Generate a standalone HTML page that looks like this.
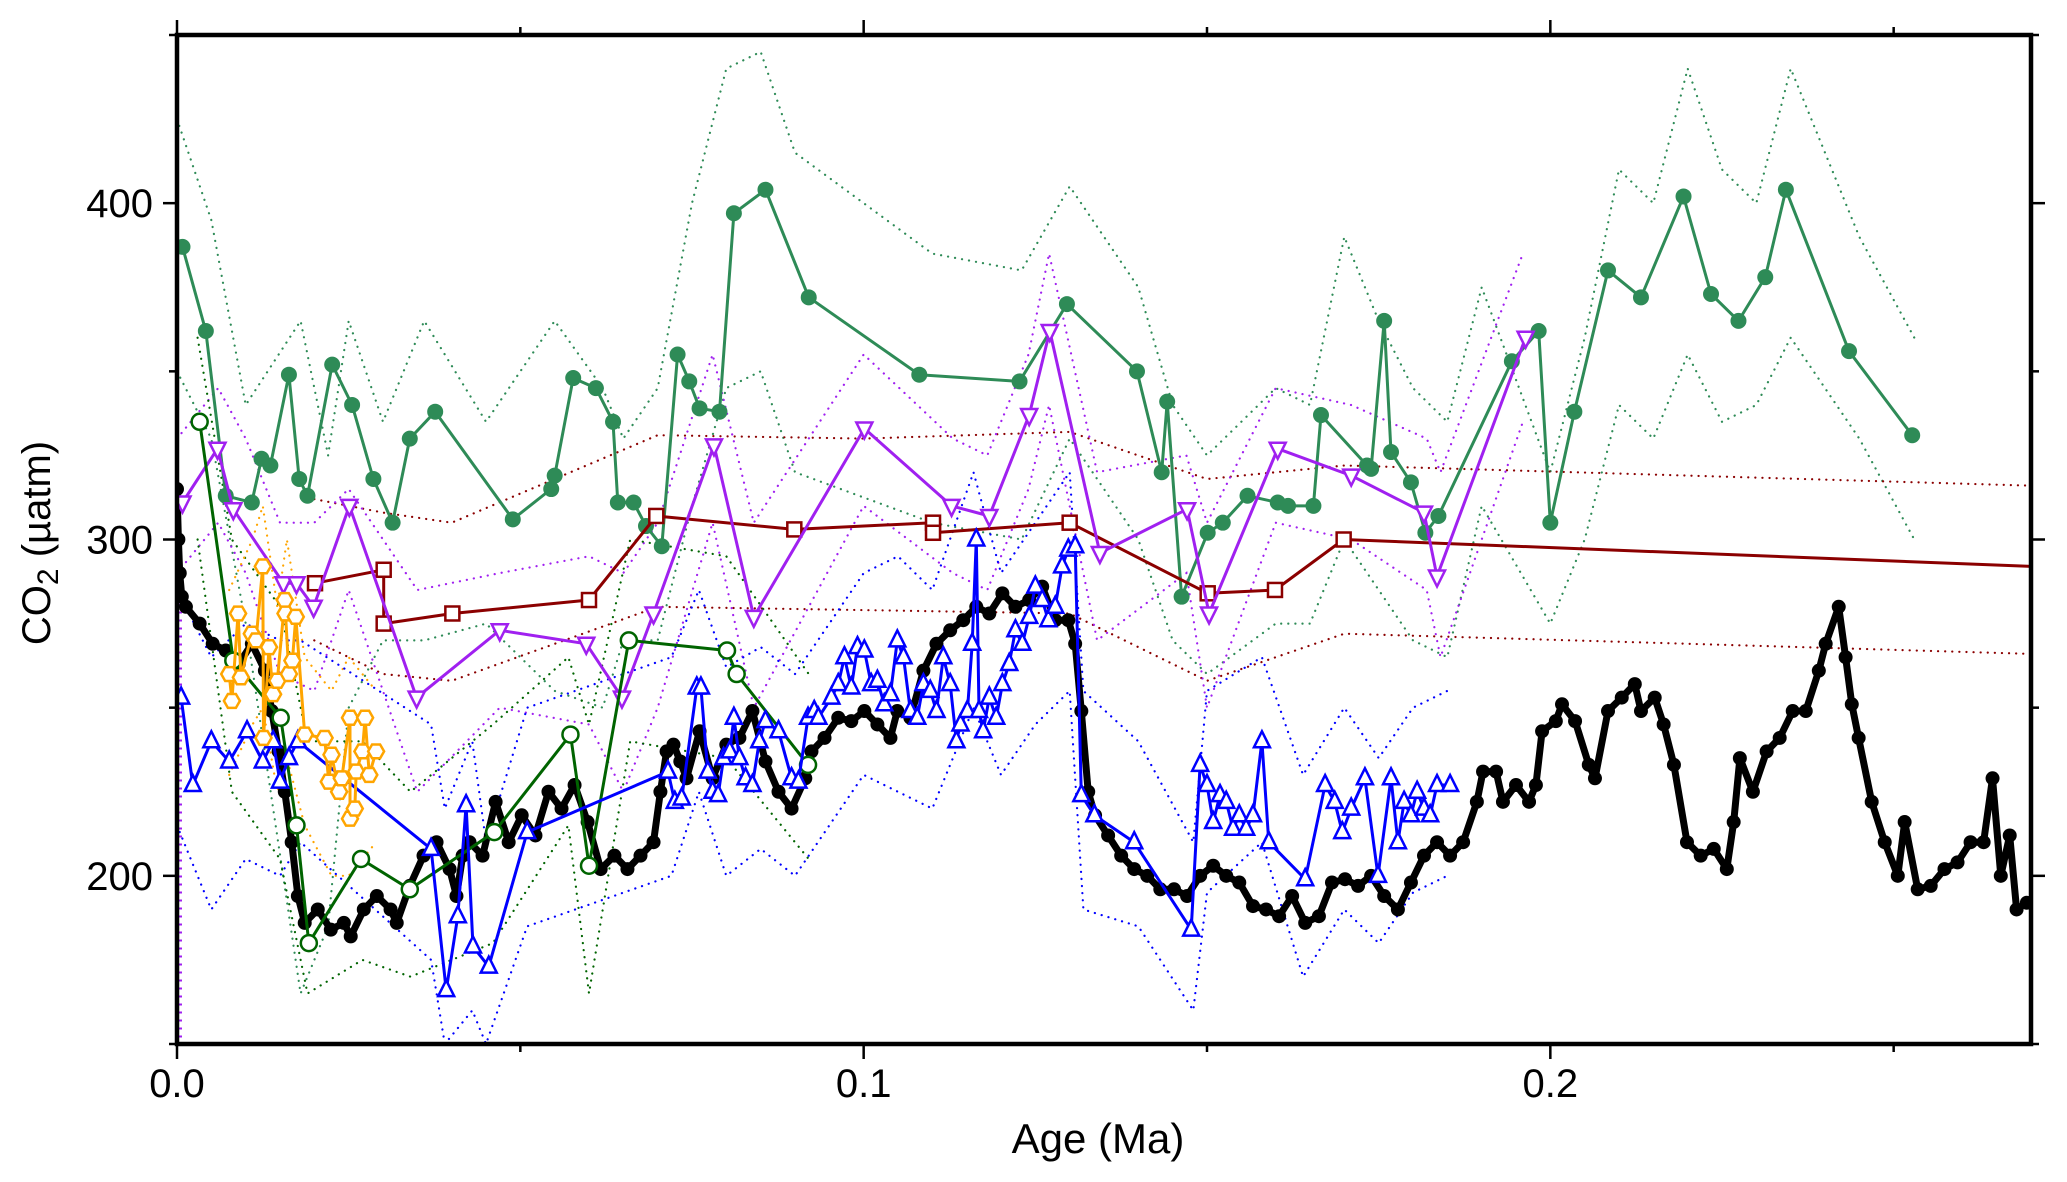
<!DOCTYPE html>
<html><head><meta charset="utf-8">
<style>
html,body{margin:0;padding:0;background:#fff;}
svg{display:block;font-family:"Liberation Sans",Arial,sans-serif;}
</style></head>
<body>
<svg id="chart" width="2067" height="1182" viewBox="0 0 2067 1182" xmlns="http://www.w3.org/2000/svg">
<defs><clipPath id="plotclip"><rect x="177" y="35" width="1854" height="1009"/></clipPath></defs>
<rect x="0" y="0" width="2067" height="1182" fill="#fff"/>
<g id="bands" clip-path="url(#plotclip)"></g>
<g id="series" clip-path="url(#plotclip)"></g>
<g id="axes"></g>
<text x="1098" y="1153" font-size="42" text-anchor="middle">Age (Ma)</text>
<text transform="translate(50,543) rotate(-90)" font-size="40" text-anchor="middle">CO<tspan font-size="30" dy="8">2</tspan><tspan dy="-8">  (µatm)</tspan></text>
</svg>
<script>
// ---- axis domains ----
const xDomain = [0, 0.27];
const yDomain = [150, 450];
const xMajorTicks = [0, 0.1, 0.2];
const xTickLabels = ["0.0", "0.1", "0.2"];
const xMinorTicks = [0.05, 0.15, 0.25];
const yMajorTicks = [200, 300, 400];
const yTickLabels = ["200", "300", "400"];
const yMinorTicks = [150, 250, 350, 450];

// ---- green filled circles ----
const greenAge = [0.0008,0.0042,0.0071,0.0109,0.0123,0.0136,0.0163,0.0178,0.0190,0.0226,0.0255,0.0286,0.0314,0.0339,0.0376,0.0489,0.0545,0.0550,0.0577,0.0610,0.0635,0.0642,0.0665,0.0683,0.0706,0.0729,0.0746,0.0761,0.0790,0.0811,0.0857,0.0920,0.1081,0.1227,0.1296,0.1398,0.1434,0.1442,0.1463,0.1501,0.1523,0.1559,0.1603,0.1618,0.1655,0.1666,0.1733,0.1739,0.1758,0.1768,0.1797,0.1818,0.1837,0.1944,0.1983,0.2000,0.2035,0.2084,0.2132,0.2194,0.2234,0.2274,0.2313,0.2343,0.2435,0.2527];
const greenCO2 = [387,362,313,311,324,322,349,318,313,352,340,318,305,330,338,306,315,319,348,345,335,311,311,304,298,355,347,339,338,397,404,372,349,347,370,350,320,341,283,302,305,313,311,310,310,337,322,321,365,326,317,302,307,353,362,305,338,380,372,402,373,365,378,404,356,331];
const greenBandAge = [0,0.005,0.01,0.018,0.022,0.025,0.03,0.036,0.045,0.055,0.062,0.065,0.07,0.075,0.08,0.085,0.09,0.11,0.123,0.13,0.14,0.145,0.15,0.16,0.165,0.17,0.175,0.18,0.185,0.19,0.2,0.205,0.21,0.215,0.22,0.225,0.23,0.235,0.245,0.253];
const greenHi = [425,395,340,365,325,365,335,365,335,365,345,330,345,400,440,445,415,385,380,405,375,340,325,345,340,390,365,345,335,375,320,360,410,400,440,410,400,440,390,360];
const greenLo = [350,330,275,165,185,250,270,270,275,255,250,270,270,310,345,350,320,305,300,330,300,270,260,275,275,300,285,270,265,310,275,300,340,330,355,335,340,360,330,300];

// ---- dark red squares ----
const redAge = [0.0201,0.0301,0.0301,0.0401,0.0600,0.0698,0.0899,0.1101,0.1101,0.1300,0.1501,0.1599,0.1699];
const redCO2 = [287,291,275,278,282,307,303,305,302,305,284,285,300];
const redTailAge = [0.1699,0.27];
const redTailCO2 = [300,292];
const redBandAge = [0.02,0.03,0.04,0.07,0.1,0.13,0.15,0.17,0.27];
const redHi = [312,308,305,331,330,332,318,322,316];
const redLo = [270,260,258,280,279,278,258,272,266];

// ---- purple downward triangles ----
const purpleAge = [0.0008,0.0059,0.0082,0.0155,0.0174,0.0199,0.0251,0.0349,0.0470,0.0596,0.0648,0.0694,0.0782,0.0840,0.1001,0.1128,0.1183,0.1241,0.1271,0.1344,0.1471,0.1503,0.1603,0.1710,0.1816,0.1835,0.1964];
const purpleCO2 = [311,327,309,287,287,280,310,253,273,269,253,278,328,277,333,310,307,337,362,296,309,278,327,319,308,289,360];
const purpleBandAge = [0,0.006,0.01,0.015,0.02,0.025,0.035,0.047,0.06,0.065,0.07,0.078,0.084,0.1,0.113,0.118,0.124,0.127,0.134,0.147,0.15,0.16,0.171,0.182,0.184,0.196];
const purpleHi = [330,345,330,305,305,315,285,290,295,290,305,355,305,355,330,325,355,385,320,325,305,345,340,330,320,385];
const purpleLo = [290,305,290,260,255,285,225,250,245,225,250,305,250,310,290,285,315,340,270,290,250,305,300,285,265,335];

// ---- dark green open circles ----
const dgreenAge = [0.0033,0.0082,0.0151,0.0174,0.0192,0.0268,0.0339,0.0462,0.0573,0.0600,0.0658,0.0801,0.0815,0.0919];
const dgreenCO2 = [335,264,247,215,180,205,196,213,242,203,270,267,260,233];
const dgreenBandAge = [0.003,0.008,0.015,0.019,0.027,0.034,0.046,0.057,0.06,0.066,0.08,0.092];
const dgreenHi = [360,300,280,240,240,225,245,265,245,300,295,260];
const dgreenLo = [300,225,205,165,175,170,180,215,165,240,235,205];

// ---- orange hexagons ----
const orangeAge = [0.0076,0.0080,0.0089,0.0093,0.0109,0.0115,0.0125,0.0126,0.0134,0.0140,0.0146,0.0157,0.0158,0.0163,0.0168,0.0173,0.0186,0.0215,0.0221,0.0225,0.0236,0.0240,0.0252,0.0252,0.0259,0.0261,0.0270,0.0274,0.0280,0.0290];
const orangeCO2 = [260,252,278,259,272,270,292,241,268,254,258,282,278,260,264,277,242,241,228,236,225,229,247,217,220,231,237,247,230,237];
const orangeBandAge = [0.0076,0.011,0.0125,0.0146,0.016,0.0186,0.0225,0.025,0.029];
const orangeHi = [285,300,310,280,300,265,255,265,255];
const orangeLo = [230,245,250,225,235,215,200,200,210];

// ---- blue upward triangles ----
const blueAge = [0.0006,0.0023,0.0050,0.0076,0.0102,0.0125,0.0140,0.0150,0.0163,0.0176,0.0370,0.0392,0.0409,0.0421,0.0431,0.0454,0.0510,0.0715,0.0725,0.0735,0.0757,0.0763,0.0773,0.0780,0.0788,0.0796,0.0805,0.0811,0.0819,0.0828,0.0838,0.0848,0.0857,0.0876,0.0895,0.0905,0.0919,0.0928,0.0934,0.0953,0.0963,0.0972,0.0982,0.0991,0.1001,0.1011,0.1020,0.1030,0.1039,0.1049,0.1058,0.1068,0.1078,0.1087,0.1097,0.1106,0.1116,0.1126,0.1135,0.1141,0.1151,0.1158,0.1164,0.1168,0.1174,0.1183,0.1193,0.1202,0.1212,0.1221,0.1231,0.1241,0.1250,0.1260,0.1269,0.1279,0.1289,0.1298,0.1308,0.1317,0.1336,0.1394,0.1477,0.1490,0.1500,0.1509,0.1519,0.1528,0.1538,0.1547,0.1557,0.1567,0.1580,0.1590,0.1643,0.1672,0.1686,0.1697,0.1710,0.1730,0.1749,0.1768,0.1778,0.1787,0.1797,0.1806,0.1816,0.1825,0.1835,0.1854];
const blueCO2 = [253,227,240,234,243,234,240,228,235,240,208,166,188,221,179,173,213,231,222,223,256,256,231,225,224,235,237,247,235,229,227,240,246,243,229,228,247,249,247,253,257,265,256,268,267,257,258,251,254,270,265,249,247,257,255,249,265,257,240,245,249,269,300,249,243,253,247,257,263,273,269,277,286,282,276,280,292,297,298,224,218,210,184,233,227,216,224,222,214,218,214,218,240,210,199,227,222,213,220,229,200,229,210,222,218,225,220,218,227,227];
const blueBandAge = [0,0.005,0.01,0.015,0.018,0.037,0.039,0.043,0.045,0.051,0.072,0.076,0.08,0.085,0.09,0.1,0.105,0.11,0.116,0.12,0.125,0.13,0.132,0.14,0.148,0.15,0.158,0.164,0.17,0.175,0.18,0.185];
const blueHi = [285,265,275,270,270,245,220,240,210,250,265,285,262,268,260,290,295,285,320,290,305,320,255,240,210,255,265,230,250,235,250,255];
const blueLo = [215,190,205,200,210,175,150,160,150,185,200,225,200,208,200,230,225,220,250,230,245,255,190,185,160,195,210,170,190,180,195,200];

// ---- black filled circles (ice core) ----
const blackAge = [0,0.0002,0.0004,0.0007,0.0013,0.0033,0.0052,0.0071,0.0090,0.0109,0.0128,0.0138,0.0148,0.0157,0.0167,0.0176,0.0186,0.0205,0.0224,0.0243,0.0253,0.0272,0.0291,0.0311,0.0320,0.0339,0.0359,0.0378,0.0397,0.0407,0.0416,0.0426,0.0445,0.0464,0.0483,0.0502,0.0522,0.0541,0.0560,0.0579,0.0598,0.0617,0.0637,0.0656,0.0675,0.0694,0.0704,0.0713,0.0723,0.0733,0.0742,0.0761,0.0780,0.0800,0.0819,0.0838,0.0857,0.0876,0.0895,0.0915,0.0924,0.0943,0.0963,0.0982,0.1001,0.1020,0.1039,0.1049,0.1068,0.1087,0.1106,0.1126,0.1145,0.1164,0.1183,0.1202,0.1221,0.1241,0.1260,0.1279,0.1298,0.1308,0.1317,0.1327,0.1337,0.1356,0.1375,0.1394,0.1413,0.1432,0.1452,0.1471,0.1490,0.1509,0.1528,0.1547,0.1567,0.1586,0.1605,0.1624,0.1643,0.1663,0.1682,0.1701,0.1720,0.1739,0.1758,0.1778,0.1797,0.1816,0.1835,0.1854,0.1873,0.1893,0.1902,0.1921,0.1931,0.1950,0.1969,0.1979,0.1988,0.2008,0.2017,0.2036,0.2056,0.2065,0.2084,0.2104,0.2123,0.2132,0.2152,0.2165,0.2180,0.2199,0.2219,0.2238,0.2257,0.2267,0.2276,0.2295,0.2315,0.2334,0.2353,0.2372,0.2391,0.2401,0.2420,0.2430,0.2439,0.2449,0.2468,0.2487,0.2506,0.2516,0.2535,0.2554,0.2574,0.2593,0.2612,0.2631,0.2644,0.2656,0.2669,0.2679,0.2694];
const blackCO2 = [315,300,290,283,280,275,269,267,263,269,261,249,237,225,210,194,186,190,184,186,182,190,194,190,186,197,206,210,202,194,206,210,206,222,210,218,212,225,220,227,216,202,206,202,206,210,225,237,239,234,229,243,229,239,241,249,234,225,220,229,237,241,247,246,249,245,241,249,247,261,269,273,276,280,278,284,280,282,286,276,276,269,249,225,218,212,206,202,200,196,196,194,200,203,200,198,191,190,188,194,186,188,198,199,197,200,194,190,198,206,210,206,210,222,231,231,222,227,222,227,243,246,251,246,233,229,249,253,257,249,253,245,233,210,206,208,202,216,235,225,237,241,249,249,261,269,280,265,251,241,222,210,200,216,196,197,202,204,210,210,229,200,212,190,192];

const NS = "http://www.w3.org/2000/svg";
const PL = 177, PR = 2031, PT = 35, PB = 1044;
function X(a){ return PL + (a - xDomain[0]) / (xDomain[1] - xDomain[0]) * (PR - PL); }
function Y(v){ return PB - (v - yDomain[0]) / (yDomain[1] - yDomain[0]) * (PB - PT); }
function mk(tag, attrs, parent){
  const e = document.createElementNS(NS, tag);
  for (const k in attrs) e.setAttribute(k, attrs[k]);
  parent.appendChild(e);
  return e;
}
function pts(ages, vals){ return ages.map((a,i)=>X(a).toFixed(1)+","+Y(vals[i]).toFixed(1)).join(" "); }

const bands = document.getElementById("bands");
const series = document.getElementById("series");
const axes = document.getElementById("axes");

function band(ages, vals, color, name){
  const p = mk("polyline", {points: pts(ages, vals), fill: "none", stroke: color, "stroke-width": 2.2, "stroke-dasharray": "0.1 7", "stroke-linecap": "round"}, bands);
  
  
}
band(greenBandAge, greenHi, "#2e8b57", "green-upper-bound");
band(greenBandAge, greenLo, "#2e8b57", "green-lower-bound");
band(redBandAge, redHi, "#8b0000", "red-upper-bound");
band(redBandAge, redLo, "#8b0000", "red-lower-bound");
band(purpleBandAge, purpleHi, "#a020f0", "purple-upper-bound");
band(purpleBandAge, purpleLo, "#a020f0", "purple-lower-bound");
band(dgreenBandAge, dgreenHi, "#006400", "darkgreen-upper-bound");
band(dgreenBandAge, dgreenLo, "#006400", "darkgreen-lower-bound");
band(orangeBandAge, orangeHi, "#ffa500", "orange-upper-bound");
band(orangeBandAge, orangeLo, "#ffa500", "orange-lower-bound");
band(blueBandAge, blueHi, "#0000ff", "blue-upper-bound");
band(blueBandAge, blueLo, "#0000ff", "blue-lower-bound");

// left-edge colored tick column
const edge = mk("line", {x1: X(0)+3, y1: Y(300), x2: X(0)+3, y2: PB, stroke: "#a020f0", "stroke-width": 4, "stroke-dasharray": "2 6"}, bands);



function line(ages, vals, color, w, name){
  const p = mk("polyline", {points: pts(ages, vals), fill: "none", stroke: color, "stroke-width": w, "stroke-linejoin": "round"}, series);
  
  
}
function marker(kind, cx, cy, color, g){
  let e;
  if (kind === "dot") e = mk("circle", {cx: cx, cy: cy, r: 8, fill: color}, g);
  else if (kind === "bdot") e = mk("circle", {cx: cx, cy: cy, r: 7, fill: color}, g);
  else if (kind === "ocircle") e = mk("circle", {cx: cx, cy: cy, r: 8, fill: "#fff", stroke: color, "stroke-width": 2.5}, g);
  else if (kind === "square") e = mk("rect", {x: cx-7, y: cy-7, width: 14, height: 14, fill: "#fff", stroke: color, "stroke-width": 2.5}, g);
  else if (kind === "tup") e = mk("polygon", {points: `${cx},${cy-10} ${cx-8},${cy+6} ${cx+8},${cy+6}`, fill: "#fff", stroke: color, "stroke-width": 2.5}, g);
  else if (kind === "tdown") e = mk("polygon", {points: `${cx},${cy+10} ${cx-8},${cy-6} ${cx+8},${cy-6}`, fill: "#fff", stroke: color, "stroke-width": 2.5}, g);
  else if (kind === "hex") {
    const r = 8; const ps = [];
    for (let k=0;k<6;k++){ const an = Math.PI/3*k; ps.push((cx+r*Math.cos(an)).toFixed(1)+","+(cy+r*Math.sin(an)).toFixed(1)); }
    e = mk("polygon", {points: ps.join(" "), fill: "#fff", stroke: color, "stroke-width": 2.5}, g);
  }
  return e;
}
function markers(ages, vals, kind, color, name){
  const g = mk("g", {}, series);
  
  
  ages.forEach((a,i)=>{
    const m = marker(kind, X(a), Y(vals[i]), color, g);
    
    
  });
}

line(blackAge, blackCO2, "#000", 7, "black-series-line");
markers(blackAge, blackCO2, "bdot", "#000", "black-series-markers");

line(greenAge, greenCO2, "#2e8b57", 3, "green-series-line");
markers(greenAge, greenCO2, "dot", "#2e8b57", "green-series-markers");

line(redAge, redCO2, "#8b0000", 3, "red-series-line");
line(redTailAge, redTailCO2, "#8b0000", 3, "red-series-tail");
markers(redAge, redCO2, "square", "#8b0000", "red-series-markers");

line(purpleAge, purpleCO2, "#a020f0", 3, "purple-series-line");
markers(purpleAge, purpleCO2, "tdown", "#a020f0", "purple-series-markers");

line(dgreenAge, dgreenCO2, "#006400", 3, "darkgreen-series-line");
markers(dgreenAge, dgreenCO2, "ocircle", "#006400", "darkgreen-series-markers");

line(blueAge, blueCO2, "#0000ff", 3, "blue-series-line");
markers(blueAge, blueCO2, "tup", "#0000ff", "blue-series-markers");

line(orangeAge, orangeCO2, "#ffa500", 3, "orange-series-line");
markers(orangeAge, orangeCO2, "hex", "#ffa500", "orange-series-markers");

// ---- axes ----
const frame = mk("rect", {x: PL, y: PT, width: PR-PL, height: PB-PT, fill: "none", stroke: "#000", "stroke-width": 4.5}, axes);



xMajorTicks.forEach((t,i)=>{
  const x = X(t);
  const a = mk("line", {x1: x, y1: PB, x2: x, y2: PB+15, stroke: "#000", "stroke-width": 2.5}, axes);
  
  
  const b = mk("line", {x1: x, y1: PT, x2: x, y2: PT-15, stroke: "#000", "stroke-width": 2.5}, axes);
  
  
  const tx = mk("text", {x: x, y: 1097, "font-size": 40, "text-anchor": "middle"}, axes);
  tx.textContent = xTickLabels[i];
  
  
});
xMinorTicks.forEach(t=>{
  const x = X(t);
  const a = mk("line", {x1: x, y1: PB, x2: x, y2: PB+8, stroke: "#000", "stroke-width": 2.5}, axes);
  
  
  const b = mk("line", {x1: x, y1: PT, x2: x, y2: PT-8, stroke: "#000", "stroke-width": 2.5}, axes);
  
  
});
yMajorTicks.forEach((t,i)=>{
  const y = Y(t);
  const a = mk("line", {x1: PL, y1: y, x2: PL-14, y2: y, stroke: "#000", "stroke-width": 2.5}, axes);
  
  
  const b = mk("line", {x1: PR, y1: y, x2: PR+14, y2: y, stroke: "#000", "stroke-width": 2.5}, axes);
  
  
  const tx = mk("text", {x: 153, y: y+14, "font-size": 40, "text-anchor": "end"}, axes);
  tx.textContent = yTickLabels[i];
  
  
});
yMinorTicks.forEach(t=>{
  const y = Y(t);
  const a = mk("line", {x1: PL, y1: y, x2: PL-8, y2: y, stroke: "#000", "stroke-width": 2.5}, axes);
  
  
  const b = mk("line", {x1: PR, y1: y, x2: PR+8, y2: y, stroke: "#000", "stroke-width": 2.5}, axes);
  
  
});
</script>
</body></html>
